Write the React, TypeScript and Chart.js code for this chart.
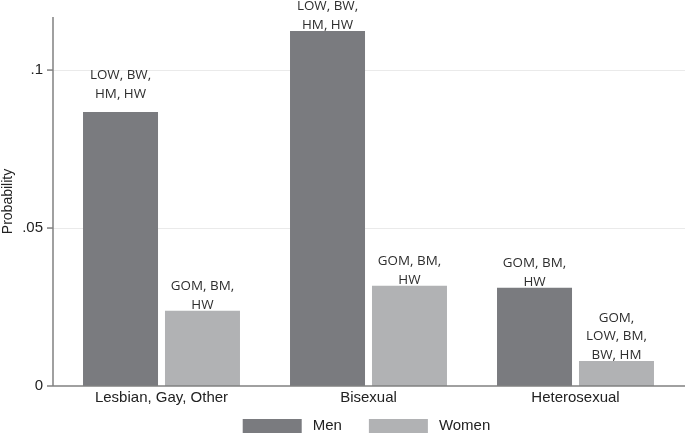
import React, { useEffect, useRef } from "react";
import { Chart, registerables } from "chart.js";

Chart.register(...registerables);

const categories = ["Lesbian, Gay, Other", "Bisexual", "Heterosexual"];
const menValues = [0.0867, 0.1124, 0.0311];
const womenValues = [0.0238, 0.0317, 0.0079];
const menLabels = [["LOW, BW,", "HM, HW"], ["LOW, BW,", "HM, HW"], ["GOM, BM,", "HW"]];
const womenLabels = [["GOM, BM,", "HW"], ["GOM, BM,", "HW"], ["GOM,", "LOW, BM,", "BW, HM"]];
const yTickValues = [0, 0.05, 0.1];
const yTickLabels = ["0", ".05", ".1"];

const AXIS_FONT = "'Liberation Sans', Arial, Helvetica, sans-serif";
const LABEL_FONT = "'Open Sans', 'Liberation Sans', sans-serif";
const MEN_COLOR = "rgb(122,123,127)";
const WOMEN_COLOR = "rgb(177,178,180)";
const AXIS_COLOR = "rgb(128,128,128)";

const labelLift = [[12, 0, 0], [0, 0, 0]];

const axesPlugin = {
  id: "stataAxes",
  beforeDatasetsDraw(chart: any) {
    const { ctx, chartArea, scales } = chart;
    const y = scales.y;
    const x0 = chartArea.left - 5;
    ctx.save();
    ctx.strokeStyle = "rgb(234,234,234)";
    ctx.lineWidth = 1;
    yTickValues.forEach((v) => {
      if (v === 0) return;
      const py = Math.round(y.getPixelForValue(v)) + 0.5;
      ctx.beginPath();
      ctx.moveTo(x0, py);
      ctx.lineTo(chart.width, py);
      ctx.stroke();
    });
    ctx.restore();
  },
  afterDraw(chart: any) {
    const { ctx, chartArea, scales } = chart;
    const y = scales.y;
    const x0 = chartArea.left - 5;
    const yBottom = y.getPixelForValue(0);
    ctx.save();
    ctx.strokeStyle = AXIS_COLOR;
    ctx.lineWidth = 1.5;
    ctx.beginPath();
    ctx.moveTo(x0, chartArea.top);
    ctx.lineTo(x0, yBottom);
    ctx.stroke();
    ctx.beginPath();
    ctx.moveTo(x0, yBottom);
    ctx.lineTo(chart.width, yBottom);
    ctx.stroke();
    yTickValues.forEach((v) => {
      const py = y.getPixelForValue(v);
      ctx.beginPath();
      ctx.moveTo(x0 - 6, py);
      ctx.lineTo(x0, py);
      ctx.stroke();
    });
    // bar annotations
    ctx.fillStyle = "#2e2e2e";
    ctx.font = `13.4px ${LABEL_FONT}`;
    ctx.textAlign = "center";
    ctx.textBaseline = "middle";
    const lineH = 18.5;
    [menLabels, womenLabels].forEach((labels, di) => {
      const meta = chart.getDatasetMeta(di);
      meta.data.forEach((bar: any, i: number) => {
        const lines = labels[i];
        const bottomY = bar.y - 6 - labelLift[di][i];
        lines.forEach((ln: string, li: number) => {
          const ly = bottomY - (lines.length - 1 - li) * lineH;
          ctx.fillText(ln, bar.x, ly);
        });
      });
    });
    // legend
    ctx.font = `15px ${AXIS_FONT}`;
    ctx.textAlign = "left";
    ctx.textBaseline = "middle";
    const boxW = 59, boxH = 14, textGap = 11, itemGap = 27;
    const items = chart.data.datasets.map((ds: any) => ({
      label: ds.label,
      color: ds.backgroundColor,
      tw: ctx.measureText(ds.label).width,
    }));
    let total = 0;
    items.forEach((it: any, i: number) => {
      total += boxW + textGap + it.tw + (i < items.length - 1 ? itemGap : 0);
    });
    let lx = (chartArea.left + chartArea.right) / 2 - total / 2 - 2;
    const ly = chart.height - 12;
    items.forEach((it: any) => {
      ctx.fillStyle = it.color;
      ctx.fillRect(lx, ly - boxH / 2, boxW, boxH);
      ctx.fillStyle = "#222";
      ctx.fillText(it.label, lx + boxW + textGap, ly);
      lx += boxW + textGap + it.tw + itemGap;
    });
    ctx.restore();
  },
};

export default function App() {
  const ref = useRef<HTMLCanvasElement | null>(null);
  useEffect(() => {
    if (!ref.current) return;
    const chart = new Chart(ref.current, {
      type: "bar",
      data: {
        labels: categories,
        datasets: [
          { label: "Men", data: menValues, backgroundColor: MEN_COLOR, borderWidth: 0 },
          { label: "Women", data: womenValues, backgroundColor: WOMEN_COLOR, borderWidth: 0 },
        ],
      },
      options: {
        animation: false,
        responsive: true,
        maintainAspectRatio: false,
        datasets: { bar: { categoryPercentage: 0.792, barPercentage: 0.915 } },
        layout: { padding: { top: 17, right: 6, left: 0, bottom: 28 } },
        plugins: {
          tooltip: { enabled: false },
          legend: { display: false },
        },
        scales: {
          x: {
            grid: { display: false, drawTicks: false, tickLength: 0 },
            border: { display: false },
            ticks: { color: "#222", padding: 3, font: { family: AXIS_FONT, size: 15 } },
          },
          y: {
            min: 0,
            max: 0.1168,
            grid: { display: false, drawTicks: false, tickLength: 0 },
            border: { display: false },
            afterBuildTicks: (scale: any) => {
              scale.ticks = yTickValues.map((v) => ({ value: v }));
            },
            afterFit: (scale: any) => {
              scale.width = 58;
              scale.paddingTop = 0;
            },
            ticks: {
              color: "#222",
              padding: 15,
              font: { family: AXIS_FONT, size: 15 },
              callback: (v: any) => {
                const idx = yTickValues.findIndex((t) => Math.abs(t - Number(v)) < 1e-9);
                return idx >= 0 ? yTickLabels[idx] : "";
              },
            },
            title: {
              display: true,
              text: "Probability",
              color: "#222",
              padding: 0,
              font: { family: AXIS_FONT, size: 14 },
            },
          },
        },
      },
      plugins: [axesPlugin],
    });
    return () => chart.destroy();
  }, []);
  return (
    <div style={{ position: "absolute", left: 0, top: 0, width: 685, height: 438 }}>
      <canvas ref={ref} />
    </div>
  );
}
